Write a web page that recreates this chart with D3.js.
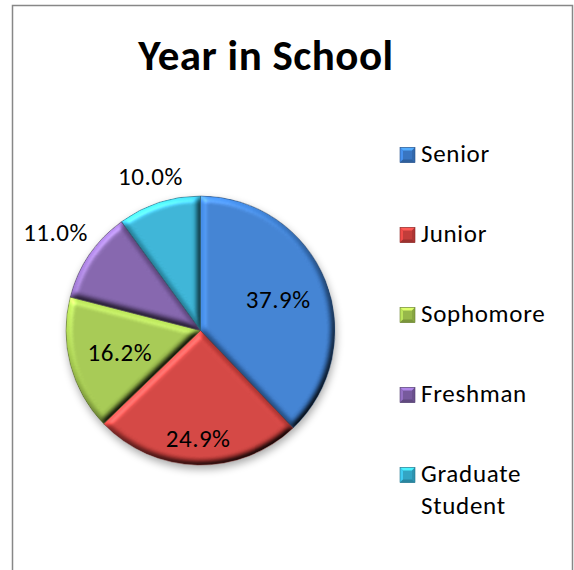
<!DOCTYPE html>
<html>
<head>
<meta charset="utf-8">
<script src="https://cdn.jsdelivr.net/npm/d3@7/dist/d3.min.js"></script>
<style>
  html, body { margin: 0; padding: 0; background: #fff; }
  svg { display: block; }
</style>
</head>
<body>
<svg id="chart" width="574" height="570"></svg>
<script>
// ---- Data ----
const title = "Year in School";
const categories = ["Senior", "Junior", "Sophomore", "Freshman", "Graduate Student"];
const legendLines = [["Senior"], ["Junior"], ["Sophomore"], ["Freshman"], ["Graduate", "Student"]];
const values = [37.9, 24.9, 16.2, 11.0, 10.0];
const labels = ["37.9%", "24.9%", "16.2%", "11.0%", "10.0%"];
const colors = ["#3d7ecf", "#d0413e", "#a2c64f", "#8061a9", "#37b1d3"];

// ---- Layout ----
const W = 574, H = 570;
const cx = 200.5, cy = 330.5, R = 134.5;
const font = "Carlito, Lato, 'Open Sans', sans-serif";

const svg = d3.select("#chart");
const defs = svg.append("defs");

// Bevel filter (light from top-left)
const bevel = defs.append("filter").attr("id", "bevel")
  .attr("x", "-10%").attr("y", "-10%").attr("width", "120%").attr("height", "120%")
  .attr("color-interpolation-filters", "sRGB");
bevel.append("feGaussianBlur").attr("in", "SourceAlpha").attr("stdDeviation", 3.2).attr("result", "blur");
bevel.append("feDiffuseLighting").attr("in", "blur").attr("surfaceScale", 3.5)
  .attr("diffuseConstant", 1).attr("lighting-color", "#ffffff").attr("result", "diff")
  .append("feDistantLight").attr("azimuth", 235).attr("elevation", 45);
bevel.append("feComposite").attr("in", "SourceGraphic").attr("in2", "diff")
  .attr("operator", "arithmetic").attr("k1", 1.38).attr("k2", 0).attr("k3", 0).attr("k4", 0)
  .attr("result", "lit");
bevel.append("feSpecularLighting").attr("in", "blur").attr("surfaceScale", 3.5)
  .attr("specularConstant", 0.5).attr("specularExponent", 22).attr("lighting-color", "#ffffff")
  .attr("result", "spec")
  .append("feDistantLight").attr("azimuth", 235).attr("elevation", 50);
bevel.append("feComposite").attr("in", "spec").attr("in2", "SourceAlpha").attr("operator", "in").attr("result", "specIn");
bevel.append("feComposite").attr("in", "lit").attr("in2", "specIn")
  .attr("operator", "arithmetic").attr("k1", 0).attr("k2", 1).attr("k3", 0.3).attr("k4", 0)
  .attr("result", "sum");
bevel.append("feComposite").attr("in", "sum").attr("in2", "SourceAlpha").attr("operator", "in");

// Shadow filter
const shadow = defs.append("filter").attr("id", "shadow")
  .attr("x", "-20%").attr("y", "-20%").attr("width", "140%").attr("height", "140%");
shadow.append("feGaussianBlur").attr("in", "SourceAlpha").attr("stdDeviation", 4).attr("result", "b");
shadow.append("feOffset").attr("in", "b").attr("dx", 1).attr("dy", 4).attr("result", "o");
shadow.append("feComponentTransfer").attr("in", "o")
  .append("feFuncA").attr("type", "linear").attr("slope", 0.35);

// Border
svg.append("rect")
  .attr("x", 12.5).attr("y", 5.5).attr("width", 560).attr("height", 620)
  .attr("fill", "#fff").attr("stroke", "#878787").attr("stroke-width", 1.5);

// Title
svg.append("text")
  .attr("x", 266).attr("y", 70)
  .attr("text-anchor", "middle")
  .attr("font-family", font).attr("font-weight", "bold").attr("font-size", 43)
  .attr("letter-spacing", 0.5)
  .attr("fill", "#000")
  .text(title);

// Pie
const pie = d3.pie().sort(null).value(d => d)(values);
const arc = d3.arc().innerRadius(0).outerRadius(R);
const g = svg.append("g").attr("transform", `translate(${cx},${cy})`);

g.append("circle").attr("r", R).attr("fill", "#000").attr("filter", "url(#shadow)");

g.selectAll("path.slice").data(pie).join("path")
  .attr("class", "slice")
  .attr("d", arc)
  .attr("fill", (d, i) => colors[i])
  .attr("filter", "url(#bevel)");

g.selectAll("path.edge").data(pie).join("path")
  .attr("class", "edge")
  .attr("d", arc)
  .attr("fill", "none")
  .attr("stroke", (d, i) => d3.color(colors[i]).darker(1.6))
  .attr("stroke-width", 0.6)
  .attr("stroke-opacity", 0.8);

// Data labels: box-aware placement (inside for large slices, outside for small ones)
const kIn = R * 0.87, kOut = R + 9;
g.selectAll("text.lbl").data(pie).join("text")
  .attr("class", "lbl")
  .attr("text-anchor", "middle")
  .attr("dy", "0.35em")
  .attr("font-family", font).attr("font-size", 25)
  .attr("letter-spacing", 0.5)
  .attr("fill", "#000")
  .text((d, i) => labels[i])
  .each(function(d) {
    const bb = this.getBBox();
    const hw = bb.width / 2, hh = 9;
    const a = (d.startAngle + d.endAngle) / 2;
    const dx = Math.sin(a), dy = -Math.cos(a);
    const support = hw * Math.abs(dx) + hh * Math.abs(dy);
    const dist = d.data < 12 ? kOut + support : kIn - support;
    d3.select(this).attr("transform", `translate(${dx * dist},${dy * dist})`);
  });

// Legend
const lx = 400, ly0 = 155, lstep = 80, ms = 15;
const leg = svg.append("g");
categories.forEach((c, i) => {
  const y = ly0 + i * lstep;
  const base = d3.color(colors[i]);
  const gi = leg.append("g").attr("transform", `translate(${lx},${y - ms / 2})`);
  gi.append("rect").attr("width", ms).attr("height", ms).attr("fill", base.darker(0.2));
  const b = 3;
  gi.append("path").attr("d", `M0,0H${ms}L${ms - b},${b}H${b}Z`).attr("fill", base.brighter(0.9));
  gi.append("path").attr("d", `M0,0L${b},${b}V${ms - b}L0,${ms}Z`).attr("fill", base.brighter(0.4));
  gi.append("path").attr("d", `M0,${ms}L${b},${ms - b}H${ms - b}L${ms},${ms}Z`).attr("fill", base.darker(0.8));
  gi.append("path").attr("d", `M${ms},0L${ms - b},${b}V${ms - b}L${ms},${ms}Z`).attr("fill", base.darker(0.5));
  gi.append("rect").attr("width", ms).attr("height", ms).attr("fill", "none")
    .attr("stroke", base.darker(1.2)).attr("stroke-width", 0.6);
  const t = leg.append("text")
    .attr("x", 421).attr("y", y + 7)
    .attr("font-family", font).attr("font-size", 25)
    .attr("letter-spacing", 0.7)
    .attr("fill", "#000");
  legendLines[i].forEach((line, j) => {
    t.append("tspan").attr("x", 421).attr("dy", j === 0 ? 0 : 31.5).text(line);
  });
});
</script>
</body>
</html>
